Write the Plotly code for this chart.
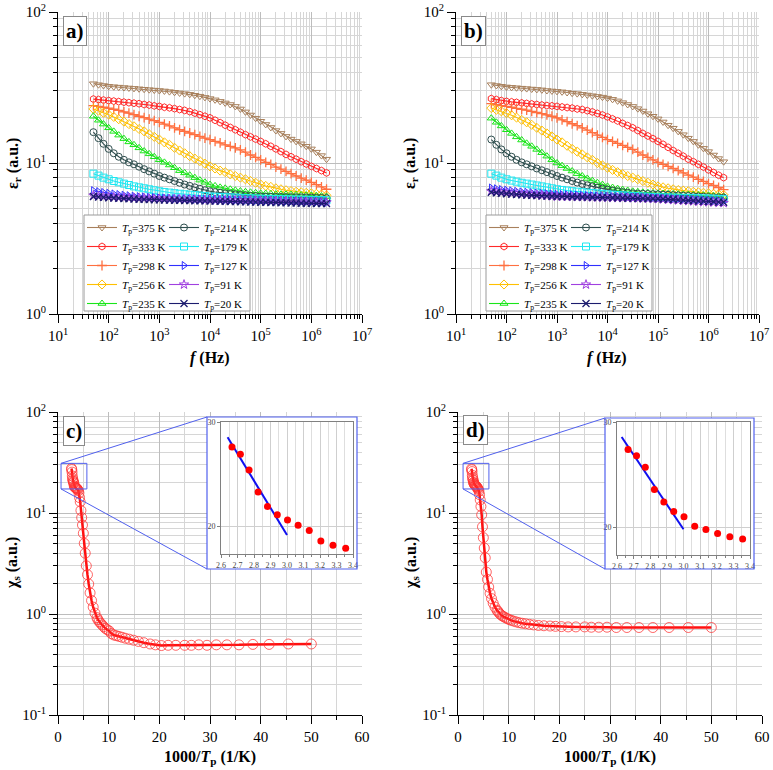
import math
import plotly.graph_objects as go

W, H = 773, 770
FONT = "Liberation Serif"


def px(v):
    return v / W


def py(v):
    return 1 - v / H


# ---------------- data: panels a) and b) ----------------
freq = [50, 63, 79,
        100, 126, 158, 200, 251, 316, 398, 501, 631, 794,
        1000, 1259, 1585, 1995, 2512, 3162, 3981, 5012, 6310, 7943,
        10000, 12589, 15849, 19953, 25119, 31623, 39811, 50119, 63096, 79433,
        100000, 125893, 158489, 199526, 251189, 316228, 398107, 501187, 630957, 794328,
        1000000, 1258925, 1584893, 1995262]

temp_labels = ["375", "333", "298", "256", "235", "214", "179", "127", "91", "20"]

a_375 = [33.5, 33.0, 32.6,
         32.2, 32.0, 31.8, 31.6, 31.4, 31.2, 31.0, 30.8, 30.6, 30.4,
         30.2, 30.0, 29.7, 29.4, 29.1, 28.8, 28.5, 28.1, 27.7, 27.2,
         26.7, 26.2, 25.6, 25.0, 24.4, 23.7, 22.8, 21.8, 20.8, 19.8,
         18.9, 18.0, 17.2, 16.4, 15.7, 15.0, 14.4, 13.9, 13.4, 12.9,
         12.4, 11.8, 11.2, 10.6]
a_333 = [26.5, 26.3, 26.1,
         25.9, 25.7, 25.5, 25.3, 25.1, 24.9, 24.7, 24.4, 24.2, 23.9,
         23.7, 23.4, 23.2, 22.9, 22.6, 22.3, 21.9, 21.4, 20.9, 20.4,
         19.9, 19.2, 18.5, 17.8, 17.2, 16.6, 16.0, 15.4, 14.9, 14.4,
         13.9, 13.4, 12.9, 12.4, 11.9, 11.4, 11.0, 10.6, 10.2, 9.85,
         9.5, 9.2, 8.9, 8.6]
a_298 = [24.0, 23.7, 23.4,
         23.1, 22.7, 22.3, 21.8, 21.4, 20.9, 20.4, 20.0, 19.5, 19.1,
         18.6, 18.1, 17.6, 17.1, 16.6, 16.2, 15.8, 15.4, 15.0, 14.6,
         14.3, 13.9, 13.6, 13.2, 12.9, 12.6, 12.2, 11.8, 11.3, 10.9,
         10.5, 10.1, 9.8, 9.4, 9.1, 8.8, 8.5, 8.2, 7.95, 7.7,
         7.45, 7.2, 6.95, 6.7]
a_256 = [22.8, 22.2, 21.5,
         20.9, 20.2, 19.5, 18.8, 18.1, 17.5, 16.8, 16.2, 15.5, 14.9,
         14.3, 13.7, 13.2, 12.6, 12.1, 11.6, 11.1, 10.7, 10.3, 9.9,
         9.5, 9.2, 8.9, 8.7, 8.4, 8.2, 8.0, 7.8, 7.6, 7.4,
         7.2, 7.05, 6.95, 6.8, 6.7, 6.6, 6.52, 6.45, 6.4, 6.35,
         6.3, 6.25, 6.18, 6.1]
a_235 = [20.4, 19.2, 18.1,
         17.1, 16.2, 15.3, 14.5, 13.8, 13.2, 12.6, 12.0, 11.5, 11.0,
         10.5, 10.1, 9.7, 9.3, 8.9, 8.6, 8.3, 8.0, 7.7, 7.45,
         7.2, 7.05, 6.9, 6.8, 6.7, 6.6, 6.52, 6.45, 6.4, 6.35,
         6.3, 6.28, 6.25, 6.22, 6.2, 6.2, 6.18, 6.16, 6.14, 6.12,
         6.1, 6.07, 6.04, 6.0]
a_214 = [16.0, 14.6, 13.4,
         12.4, 11.6, 11.0, 10.5, 10.1, 9.8, 9.45, 9.1, 8.8, 8.5,
         8.2, 8.0, 7.8, 7.6, 7.4, 7.2, 7.05, 6.9, 6.75, 6.6,
         6.5, 6.42, 6.35, 6.3, 6.25, 6.2, 6.15, 6.1, 6.06, 6.03,
         6.0, 5.99, 5.98, 5.97, 5.96, 5.95, 5.94, 5.93, 5.92, 5.91,
         5.9, 5.88, 5.87, 5.85]
a_179 = [8.5, 8.25, 8.0,
         7.8, 7.6, 7.45, 7.3, 7.15, 7.0, 6.9, 6.8, 6.7, 6.6,
         6.5, 6.43, 6.37, 6.31, 6.26, 6.21, 6.17, 6.13, 6.09, 6.05,
         6.0, 5.98, 5.96, 5.94, 5.92, 5.9, 5.88, 5.86, 5.84, 5.82,
         5.8, 5.79, 5.78, 5.77, 5.76, 5.75, 5.74, 5.73, 5.72, 5.71,
         5.7, 5.69, 5.68, 5.66]
a_127 = [6.56, 6.46, 6.38,
         6.3, 6.24, 6.18, 6.12, 6.07, 6.03, 5.99, 5.96, 5.93, 5.9,
         5.87, 5.85, 5.83, 5.81, 5.8, 5.79, 5.77, 5.76, 5.75, 5.73,
         5.72, 5.71, 5.7, 5.69, 5.68, 5.67, 5.66, 5.65, 5.64, 5.64,
         5.63, 5.62, 5.61, 5.6, 5.59, 5.58, 5.57, 5.56, 5.55, 5.54,
         5.53, 5.52, 5.5, 5.49]
a_91 = [6.08, 6.03, 5.99,
        5.96, 5.93, 5.91, 5.89, 5.87, 5.85, 5.83, 5.82, 5.8, 5.79,
        5.78, 5.77, 5.76, 5.75, 5.74, 5.73, 5.72, 5.71, 5.7, 5.69,
        5.68, 5.68, 5.67, 5.67, 5.66, 5.66, 5.65, 5.65, 5.64, 5.64,
        5.63, 5.62, 5.61, 5.6, 5.59, 5.58, 5.57, 5.56, 5.55, 5.54,
        5.53, 5.52, 5.5, 5.49]
a_20 = [6.0, 5.96, 5.92,
        5.89, 5.86, 5.84, 5.82, 5.8, 5.78, 5.76, 5.74, 5.72, 5.71,
        5.7, 5.69, 5.68, 5.67, 5.66, 5.65, 5.64, 5.63, 5.62, 5.61,
        5.6, 5.59, 5.58, 5.57, 5.56, 5.55, 5.54, 5.53, 5.52, 5.51,
        5.5, 5.49, 5.48, 5.47, 5.46, 5.45, 5.44, 5.43, 5.42, 5.41,
        5.4, 5.39, 5.39, 5.38]

b_375 = [33.0, 32.6, 32.2,
         31.9, 31.7, 31.5, 31.3, 31.1, 30.9, 30.7, 30.5, 30.2, 30.0,
         29.8, 29.6, 29.3, 29.0, 28.8, 28.5, 28.2, 27.9, 27.6, 27.3,
         26.9, 26.4, 25.8, 25.1, 24.4, 23.7, 22.9, 22.1, 21.2, 20.4,
         19.6, 18.7, 17.8, 17.0, 16.2, 15.4, 14.6, 13.9, 13.2, 12.5,
         11.9, 11.3, 10.7, 10.2]
b_333 = [26.7, 26.3, 25.9,
         25.6, 25.4, 25.2, 25.0, 24.8, 24.6, 24.4, 24.2, 24.0, 23.9,
         23.7, 23.5, 23.3, 23.1, 22.8, 22.6, 22.2, 21.8, 21.3, 20.8,
         20.2, 19.6, 19.0, 18.3, 17.7, 17.1, 16.4, 15.7, 15.1, 14.5,
         13.9, 13.3, 12.7, 12.1, 11.6, 11.1, 10.6, 10.2, 9.8, 9.4,
         9.0, 8.65, 8.3, 8.0]
b_298 = [24.7, 24.3, 24.0,
         23.7, 23.4, 23.0, 22.7, 22.4, 22.0, 21.6, 21.2, 20.8, 20.4,
         19.9, 19.3, 18.8, 18.2, 17.7, 17.1, 16.5, 15.9, 15.3, 14.8,
         14.3, 13.9, 13.5, 13.1, 12.7, 12.3, 11.8, 11.3, 10.9, 10.5,
         10.1, 9.8, 9.5, 9.2, 8.9, 8.6, 8.3, 8.05, 7.8, 7.55,
         7.3, 7.1, 6.88, 6.66]
b_256 = [23.1, 22.5, 22.0,
         21.4, 20.7, 20.0, 19.3, 18.6, 17.9, 17.1, 16.4, 15.7, 15.0,
         14.3, 13.7, 13.0, 12.4, 11.9, 11.4, 10.9, 10.5, 10.0, 9.65,
         9.3, 9.0, 8.7, 8.45, 8.2, 8.0, 7.8, 7.6, 7.4, 7.2,
         7.0, 6.9, 6.8, 6.7, 6.62, 6.56, 6.5, 6.45, 6.4, 6.35,
         6.3, 6.25, 6.2, 6.15]
b_235 = [19.8, 18.6, 17.6,
         16.6, 15.7, 14.9, 14.2, 13.5, 12.9, 12.3, 11.7, 11.1, 10.5,
         10.0, 9.6, 9.2, 8.85, 8.5, 8.2, 7.9, 7.65, 7.4, 7.2,
         7.0, 6.88, 6.77, 6.67, 6.58, 6.5, 6.45, 6.4, 6.36, 6.33,
         6.3, 6.28, 6.26, 6.24, 6.22, 6.2, 6.18, 6.16, 6.14, 6.12,
         6.1, 6.07, 6.04, 6.0]
b_214 = [14.3, 13.2, 12.3,
         11.6, 11.0, 10.5, 10.1, 9.8, 9.5, 9.2, 8.95, 8.7, 8.45,
         8.2, 8.0, 7.8, 7.6, 7.42, 7.26, 7.12, 7.0, 6.88, 6.77,
         6.66, 6.58, 6.5, 6.42, 6.36, 6.3, 6.27, 6.25, 6.23, 6.21,
         6.2, 6.17, 6.15, 6.12, 6.1, 6.07, 6.05, 6.03, 6.0, 5.98,
         5.95, 5.93, 5.92, 5.9]
b_179 = [8.5, 8.25, 8.0,
         7.8, 7.65, 7.52, 7.4, 7.3, 7.2, 7.1, 7.0, 6.9, 6.8,
         6.7, 6.63, 6.57, 6.51, 6.46, 6.41, 6.37, 6.33, 6.29, 6.25,
         6.2, 6.17, 6.14, 6.11, 6.08, 6.05, 6.03, 6.0, 5.98, 5.95,
         5.93, 5.92, 5.91, 5.9, 5.89, 5.88, 5.87, 5.86, 5.84, 5.83,
         5.82, 5.81, 5.79, 5.78]
b_127 = [6.83, 6.75, 6.67,
         6.6, 6.54, 6.49, 6.44, 6.4, 6.36, 6.32, 6.29, 6.26, 6.23,
         6.2, 6.18, 6.16, 6.14, 6.12, 6.1, 6.08, 6.06, 6.04, 6.02,
         6.0, 5.99, 5.97, 5.96, 5.94, 5.93, 5.91, 5.9, 5.88, 5.87,
         5.85, 5.83, 5.81, 5.79, 5.77, 5.75, 5.73, 5.71, 5.68, 5.66,
         5.63, 5.61, 5.58, 5.56]
b_91 = [6.5, 6.44, 6.39,
        6.34, 6.3, 6.26, 6.22, 6.19, 6.16, 6.13, 6.1, 6.07, 6.03,
        6.0, 5.99, 5.98, 5.97, 5.96, 5.95, 5.94, 5.93, 5.92, 5.91,
        5.9, 5.89, 5.88, 5.87, 5.86, 5.85, 5.84, 5.82, 5.81, 5.79,
        5.78, 5.75, 5.72, 5.69, 5.66, 5.63, 5.61, 5.58, 5.55, 5.53,
        5.51, 5.49, 5.46, 5.44]
b_20 = [6.4, 6.35, 6.3,
        6.26, 6.22, 6.19, 6.16, 6.13, 6.11, 6.09, 6.06, 6.04, 6.02,
        6.0, 5.99, 5.98, 5.97, 5.96, 5.95, 5.94, 5.93, 5.92, 5.91,
        5.9, 5.89, 5.88, 5.87, 5.86, 5.85, 5.84, 5.83, 5.82, 5.81,
        5.8, 5.78, 5.76, 5.73, 5.7, 5.67, 5.65, 5.62, 5.6, 5.58,
        5.56, 5.54, 5.51, 5.49]

# ---------------- data: panels c) and d) ----------------
temp_K = [375, 368, 361, 354, 347, 340, 333, 326, 319, 312, 305, 298,
          291, 284, 277, 270, 263, 256, 249, 242, 235, 228, 221, 214,
          207, 200, 193, 186, 179, 172, 165, 158, 151, 144, 137, 130,
          127, 123, 119, 115, 111, 107, 103, 99, 95, 91, 87, 83, 79,
          75, 71, 67, 63, 59, 55, 52, 49, 46, 43, 40,
          38, 36, 34, 32, 30, 28, 26, 24, 22, 20]
chi_c = [27.6, 26.9, 25.4, 23.3, 21.9, 21.1, 20.6, 20.1, 19.6, 18.6, 18.2, 17.9,
         17.8, 17.7, 17.6, 17.5, 17.3, 17.0, 16.6, 15.8, 14.2, 12.9, 10.6, 9.0,
         7.6, 6.3, 5.0, 4.0, 3.0, 2.45, 1.98, 1.62, 1.36, 1.17, 1.02, 0.92,
         0.88, 0.84, 0.81, 0.78, 0.75, 0.72, 0.70, 0.68, 0.64, 0.62, 0.61, 0.60, 0.588,
         0.575, 0.563, 0.55, 0.535, 0.52, 0.505, 0.495, 0.487, 0.49, 0.49, 0.49,
         0.49, 0.495, 0.49, 0.495, 0.495, 0.495, 0.5, 0.5, 0.505, 0.505]
chi_d = [27.4, 26.8, 25.7, 23.6, 22.4, 21.5, 21.0, 20.1, 19.8, 19.4, 19.1, 18.9,
         18.7, 18.5, 18.3, 18.1, 17.8, 17.5, 17.1, 16.5, 15.2, 13.5, 11.6, 9.6,
         7.3, 5.7, 4.5, 3.6, 2.6, 2.2, 1.85, 1.6, 1.42, 1.28, 1.17, 1.09,
         1.06, 1.02, 0.99, 0.96, 0.94, 0.92, 0.90, 0.88, 0.865, 0.85, 0.835, 0.82, 0.81,
         0.80, 0.79, 0.78, 0.77, 0.765, 0.76, 0.755, 0.75, 0.745, 0.745, 0.745,
         0.74, 0.74, 0.74, 0.735, 0.735, 0.735, 0.735, 0.735, 0.735, 0.735]
inset_n = 12  # points shown in the zoomed insets (375 K ... 298 K)
fit_c_x = [2.64, 3.0]
fit_c_y = [28.53, 19.17]
fit_d_x = [2.628, 3.0]
fit_d_y = [28.57, 19.81]

# ---------------- styles ----------------
colors = ["#A8805C", "#FF2A2A", "#FF7040", "#FFC000", "#19E619",
          "#2F4F4F", "#1EE6F0", "#3030FF", "#A040E0", "#1C1C6E"]
symbols = ["triangle-down-open", "hexagon-open", "cross-thin-open", "diamond-open",
           "triangle-up-open", "circle-open", "square-open", "triangle-right-open",
           "star-open", "x-thin-open"]

a_series = [a_375, a_333, a_298, a_256, a_235, a_214, a_179, a_127, a_91, a_20]
b_series = [b_375, b_333, b_298, b_256, b_235, b_214, b_179, b_127, b_91, b_20]
for s in a_series + b_series:
    assert len(s) == len(freq)
assert len(chi_c) == len(temp_K) == len(chi_d)

inv_T = [1000.0 / t for t in temp_K]

fig = go.Figure()

for series, xa, ya, legs in [(a_series, "x", "y", ("legend", "legend2")),
                             (b_series, "x2", "y2", ("legend3", "legend4"))]:
    for i, (lab, vals) in enumerate(zip(temp_labels, series)):
        w = 1.3 if symbols[i] in ("cross-thin-open", "x-thin-open") else 1.0
        fig.add_trace(go.Scatter(
            x=freq, y=vals, mode="lines+markers",
            name="<i>T</i><sub>p</sub>=%s K" % lab,
            line=dict(color=colors[i], width=1.1),
            marker=dict(symbol=symbols[i], size=7, color=colors[i], line=dict(width=w)),
            xaxis=xa, yaxis=ya, legend=legs[0] if i < 5 else legs[1],
            hoverinfo="skip"))

for chi, xa, ya in [(chi_c, "x3", "y3"), (chi_d, "x4", "y4")]:
    fig.add_trace(go.Scatter(
        x=inv_T, y=chi, mode="lines+markers",
        line=dict(color="#FF1010", width=2.5),
        marker=dict(symbol="circle-open", size=10, color="rgba(255,50,50,0.75)", line=dict(width=1)),
        xaxis=xa, yaxis=ya, showlegend=False, hoverinfo="skip"))

# white cover panels behind the insets
for xa, ya in [("x5", "y5"), ("x6", "y6")]:
    fig.add_trace(go.Scatter(x=[], y=[], xaxis=xa, yaxis=ya, showlegend=False))

for chi, fx, fy, xa, ya in [(chi_c, fit_c_x, fit_c_y, "x7", "y7"),
                            (chi_d, fit_d_x, fit_d_y, "x8", "y8")]:
    fig.add_trace(go.Scatter(x=fx, y=fy, mode="lines", line=dict(color="#1010F0", width=2),
                             xaxis=xa, yaxis=ya, showlegend=False, hoverinfo="skip"))
    fig.add_trace(go.Scatter(x=inv_T[:inset_n], y=chi[:inset_n], mode="markers",
                             marker=dict(color="#FF0000", size=7),
                             xaxis=xa, yaxis=ya, showlegend=False, hoverinfo="skip"))

# ---------------- axes ----------------
GRID = "#bdbdbd"
GRID_MINOR = "#d6d6d6"
TICKFONT = dict(family=FONT, size=15, color="black")


def log_axis(domain, anchor, lo, hi):
    tv = [10.0 ** e for e in range(lo, hi + 1)]
    tt = ["10<sup>%d</sup>" % e for e in range(lo, hi + 1)]
    mv = [m * 10.0 ** e for e in range(lo, hi) for m in range(2, 10)]
    return dict(type="log", domain=domain, anchor=anchor, range=[lo, hi], automargin=False,
                tickmode="array", tickvals=tv, ticktext=tt,
                showline=True, linecolor="black", linewidth=1,
                ticks="outside", ticklen=8, tickcolor="black",
                showgrid=True, gridcolor=GRID, gridwidth=1, zeroline=False,
                tickfont=TICKFONT,
                minor=dict(tickmode="array", tickvals=mv, ticks="outside", ticklen=4,
                           tickcolor="black", showgrid=True, gridcolor=GRID_MINOR))


def lin_axis(domain, anchor, lo, hi, dt):
    return dict(type="linear", domain=domain, anchor=anchor, range=[lo, hi], automargin=False,
                tick0=0, dtick=dt, showline=True, linecolor="black", linewidth=1,
                ticks="outside", ticklen=8, tickcolor="black",
                showgrid=True, gridcolor=GRID, zeroline=False, tickfont=TICKFONT,
                minor=dict(dtick=dt / 2, ticks="outside", ticklen=4, tickcolor="black",
                           showgrid=True, gridcolor=GRID_MINOR))


def inset_axes(xdom, ydom, xa, ya, ybottom):
    fx = dict(domain=xdom, anchor=ya, range=[2.6, 3.4], tick0=2.6, dtick=0.1, automargin=False,
              tickformat=".1f", showline=True, mirror=True, linecolor="#808080",
              ticks="outside", ticklen=3, tickcolor="#808080",
              tickfont=dict(family=FONT, size=8, color="#444"),
              showgrid=True, gridcolor="#cfcfcf", zeroline=False,
              minor=dict(dtick=0.05, showgrid=True, gridcolor="#dedede",
                         ticks="outside", ticklen=2, tickcolor="#808080"))
    fy = dict(domain=ydom, anchor=xa, range=[ybottom, 30], tickmode="array", automargin=False,
              tickvals=[20, 30], showline=True, mirror=True, linecolor="#808080",
              ticks="outside", ticklen=3, tickcolor="#808080",
              tickfont=dict(family=FONT, size=8, color="#444"),
              showgrid=True, gridcolor="#cfcfcf", zeroline=False)
    return fx, fy


A_X = [px(58), px(362)]
B_X = [px(456), px(759)]
TOP_Y = [py(314), py(12)]
C_X = [px(58), px(362)]
D_X = [px(458), px(762)]
BOT_Y = [py(715), py(412)]
FRAME_C = (207, 417, 357, 569)
FRAME_D = (605, 418, 754, 569)

layout_axes = {
    "xaxis": log_axis(A_X, "y", 1, 7), "yaxis": log_axis(TOP_Y, "x", 0, 2),
    "xaxis2": log_axis(B_X, "y2", 1, 7), "yaxis2": log_axis(TOP_Y, "x2", 0, 2),
    "xaxis3": lin_axis(C_X, "y3", 0, 60, 10), "yaxis3": log_axis(BOT_Y, "x3", -1, 2),
    "xaxis4": lin_axis(D_X, "y4", 0, 60, 10), "yaxis4": log_axis(BOT_Y, "x4", -1, 2),
}
for k, fr, ya in [("5", FRAME_C, "y5"), ("6", FRAME_D, "y6")]:
    layout_axes["xaxis" + k] = dict(domain=[px(fr[0]), px(fr[2])], anchor=ya, visible=False,
                                    range=[0, 1], showgrid=False, automargin=False)
    layout_axes["yaxis" + k] = dict(domain=[py(fr[3]), py(fr[1])], anchor="x" + k, visible=False,
                                    range=[0, 1], showgrid=False, automargin=False)
ix7, iy7 = inset_axes([px(221), px(353)], [py(554), py(422)], "x7", "y7", 17.35)
ix8, iy8 = inset_axes([px(617), px(750)], [py(555), py(422)], "x8", "y8", 17.37)
layout_axes.update({"xaxis7": ix7, "yaxis7": iy7, "xaxis8": ix8, "yaxis8": iy8})

fig.update_layout(**layout_axes)

# ---------------- legends ----------------
LEG_FONT = dict(family=FONT, size=11, color="black")


def leg(xp, yp):
    return dict(x=px(xp), y=py(yp), xanchor="left", yanchor="top", bgcolor="rgba(0,0,0,0)",
                borderwidth=0, font=LEG_FONT, itemwidth=30, tracegroupgap=0)


fig.update_layout(legend=leg(82, 213), legend2=leg(164, 213),
                  legend3=leg(484, 213), legend4=leg(566, 213))

shapes = []
for x0, x1 in [(84, 250), (486, 652)]:
    shapes.append(dict(type="rect", xref="paper", yref="paper", x0=px(x0), x1=px(x1),
                       y0=py(311), y1=py(215), fillcolor="white",
                       line=dict(color="#9a9a9a", width=1), layer="above"))

# ---------------- zoom boxes and connectors ----------------
BLUE = "#5060EE"


def to_paper(x, y, xdom, ydom, xr=(0, 60), yr=(-1, 2)):
    return (xdom[0] + (x - xr[0]) / (xr[1] - xr[0]) * (xdom[1] - xdom[0]),
            ydom[0] + (math.log10(y) - yr[0]) / (yr[1] - yr[0]) * (ydom[1] - ydom[0]))


for xdom, (zx0, zx1), fr in [(C_X, (0.6, 5.7), FRAME_C), (D_X, (1.0, 6.1), FRAME_D)]:
    lx, ty = to_paper(zx0, 31, xdom, BOT_Y)
    rx, by = to_paper(zx1, 17.3, xdom, BOT_Y)
    shapes.append(dict(type="rect", xref="paper", yref="paper", x0=lx, x1=rx, y0=by, y1=ty,
                       line=dict(color=BLUE, width=1), layer="above"))
    shapes.append(dict(type="line", xref="paper", yref="paper", x0=lx, y0=ty,
                       x1=px(fr[0]), y1=py(fr[1]), line=dict(color=BLUE, width=1), layer="above"))
    shapes.append(dict(type="line", xref="paper", yref="paper", x0=lx, y0=by,
                       x1=px(fr[0]), y1=py(fr[3]), line=dict(color=BLUE, width=1), layer="above"))
    shapes.append(dict(type="rect", xref="paper", yref="paper", x0=px(fr[0]), x1=px(fr[2]),
                       y0=py(fr[3]), y1=py(fr[1]), line=dict(color=BLUE, width=1.2),
                       layer="above"))

# ---------------- annotations ----------------
ann = []
for lab, xp, yp in [("a)", 63, 16), ("b)", 461, 16), ("c)", 63, 416), ("d)", 463, 415)]:
    ann.append(dict(text="<b>%s</b>" % lab, xref="paper", yref="paper", x=px(xp), y=py(yp),
                    xanchor="left", yanchor="top", showarrow=False,
                    font=dict(family=FONT, size=21, color="black"),
                    bgcolor="white", bordercolor="#8a8a8a", borderwidth=1, borderpad=2))

TITLE_FONT = dict(family=FONT, size=16, color="black")
eps_t = "<b>ε<sub>r</sub> (a.u.)</b>"
chi_t = "<b>χ<sub>s</sub> (a.u.)</b>"
f_t = "<b><i>f</i> (Hz)</b>"
T_t = "<b>1000/<i>T</i><sub>p</sub> (1/K)</b>"
for txt, xp, yp, ang in [(eps_t, 13, 163, -90), (eps_t, 410, 163, -90),
                         (chi_t, 12, 563, -90), (chi_t, 411, 563, -90),
                         (f_t, 210, 358, 0), (f_t, 607, 358, 0),
                         (T_t, 210, 757, 0), (T_t, 610, 757, 0)]:
    ann.append(dict(text=txt, xref="paper", yref="paper", x=px(xp), y=py(yp),
                    xanchor="center", yanchor="middle", showarrow=False, textangle=ang,
                    font=TITLE_FONT))

fig.update_layout(width=W, height=H, autosize=False,
                  margin=dict(l=0, r=0, t=0, b=0, autoexpand=False),
                  paper_bgcolor="white", plot_bgcolor="white",
                  font=dict(family=FONT, color="black"),
                  shapes=shapes, annotations=ann, showlegend=True)

fig.write_html("out.html", config={"displayModeBar": False, "staticPlot": True},
               post_script="document.body.style.margin='0';document.body.style.overflow='hidden';")
